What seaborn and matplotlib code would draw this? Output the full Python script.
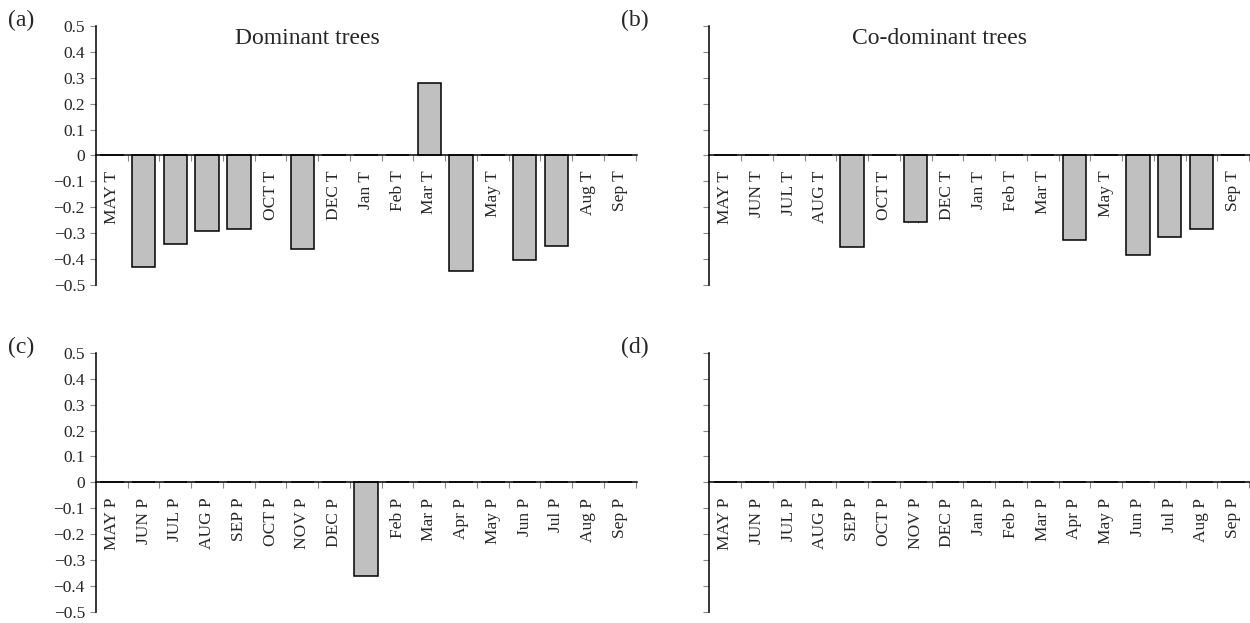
import numpy as np
import pandas as pd
import matplotlib
matplotlib.use("Agg")
import matplotlib.pyplot as plt
import seaborn as sns

# month labels for temperature (T) and precipitation (P) correlations
months = ["MAY", "JUN", "JUL", "AUG", "SEP", "OCT", "NOV", "DEC",
          "Jan", "Feb", "Mar", "Apr", "May", "Jun", "Jul", "Aug", "Sep"]
temp_labels = [m + " T" for m in months]
prec_labels = [m + " P" for m in months]

# significant correlation coefficients (0 = not significant)
dominant_temp = [0, -0.43, -0.34, -0.29, -0.285, 0, -0.36, 0, 0, 0,
                 0.28, -0.445, 0, -0.405, -0.35, 0, 0]
codominant_temp = [0, 0, 0, 0, -0.355, 0, -0.256, 0, 0, 0,
                   0, -0.325, 0, -0.385, -0.315, -0.285, 0]
dominant_prec = [0, 0, 0, 0, 0, 0, 0, 0, -0.36, 0,
                 0, 0, 0, 0, 0, 0, 0]
codominant_prec = [0, 0, 0, 0, 0, 0, 0, 0, 0, 0,
                   0, 0, 0, 0, 0, 0, 0]

sns.set_style("white")
plt.rcParams["font.family"] = ["Liberation Serif", "DejaVu Serif"]

fig = plt.figure(figsize=(12.5, 6.23), dpi=100)
ax_w, ax_h = 0.433, 0.416
positions = {
    "a": (0.0768, 0.5425),
    "b": (0.5675, 0.5425),
    "c": (0.0768, 0.0177),
    "d": (0.5675, 0.0177),
}
panels = [
    ("a", temp_labels, dominant_temp, "Dominant trees", 0.39, True),
    ("b", temp_labels, codominant_temp, "Co-dominant trees", 0.425, False),
    ("c", prec_labels, dominant_prec, None, 0.5, True),
    ("d", prec_labels, codominant_prec, None, 0.5, False),
]

for key, labels, values, title, title_x, show_y in panels:
    left, bottom = positions[key]
    ax = fig.add_axes([left, bottom, ax_w, ax_h])
    df = pd.DataFrame({"month": labels, "r": values})
    sns.barplot(data=df, x="month", y="r", order=labels, ax=ax,
                color="#c0c0c0", edgecolor="black", linewidth=1.1,
                width=0.74, saturation=1)
    ax.set_xlim(-0.5, 16.55)
    ax.set_ylim(-0.5, 0.5)
    ax.set_xlabel("")
    ax.set_ylabel("")

    ax.spines["top"].set_visible(False)
    ax.spines["right"].set_visible(False)
    ax.spines["bottom"].set_position(("data", 0))
    for s in ("left", "bottom"):
        ax.spines[s].set_color("black")
        ax.spines[s].set_linewidth(1.1)

    ax.set_yticks(np.round(np.arange(-0.5, 0.51, 0.1), 1))
    if show_y:
        ax.set_yticklabels(["\u22120.5", "\u22120.4", "\u22120.3", "\u22120.2", "\u22120.1",
                            "0", "0.1", "0.2", "0.3", "0.4", "0.5"])
    else:
        ax.set_yticklabels([])
    ax.tick_params(axis="y", direction="out", length=4, width=0.8,
                   color="#888888", labelsize=12.5, pad=4, left=True)

    ax.set_xticks(np.arange(len(labels)))
    ax.set_xticklabels(labels, rotation=90, fontsize=12.5, va="top", ha="center")
    ax.set_xticks(np.arange(0.5, len(labels), 1.0), minor=True)
    ax.tick_params(axis="x", which="major", length=0, pad=11, bottom=True)
    ax.tick_params(axis="x", which="minor", direction="out", length=4,
                   width=0.8, color="#888888", bottom=True)

    if title:
        ax.text(title_x, 0.99, title, transform=ax.transAxes, fontsize=17,
                ha="center", va="top")

    fig.text(left - 0.0705, bottom + ax_h + 0.008, "(" + key + ")",
             fontsize=17, ha="left", va="center")

fig.savefig("out.png", dpi=100)
